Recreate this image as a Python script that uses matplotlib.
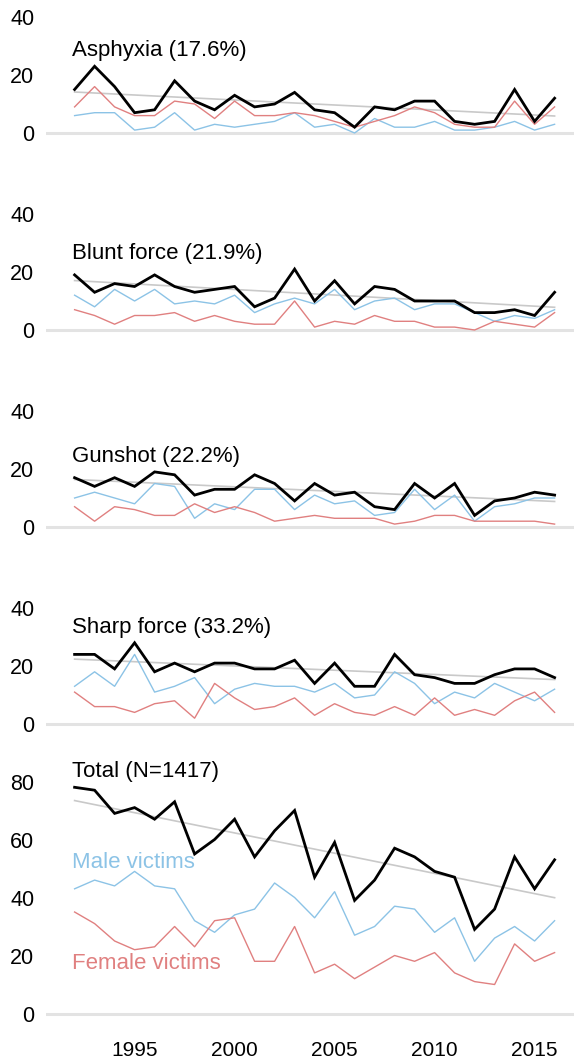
import matplotlib
matplotlib.use('Agg')
import matplotlib.pyplot as plt
import numpy as np

plt.rcParams['font.family'] = ['Liberation Sans', 'DejaVu Sans']

years = np.arange(1992, 2017)

# victims per year, by cause of death (male, female, total)
asphyxia_male = [6, 7, 7, 1, 2, 7, 1, 3, 2, 3, 4, 7, 2, 3, 0, 5, 2, 2, 4, 1, 1, 2, 4, 1, 3]
asphyxia_female = [9, 16, 9, 6, 6, 11, 10, 5, 11, 6, 6, 7, 6, 4, 2, 4, 6, 9, 7, 3, 2, 2, 11, 3, 9]
asphyxia_total = [15, 23, 16, 7, 8, 18, 11, 8, 13, 9, 10, 14, 8, 7, 2, 9, 8, 11, 11, 4, 3, 4, 15, 4, 12]

blunt_male = [12, 8, 14, 10, 14, 9, 10, 9, 12, 6, 9, 11, 9, 14, 7, 10, 11, 7, 9, 9, 6, 3, 5, 4, 7]
blunt_female = [7, 5, 2, 5, 5, 6, 3, 5, 3, 2, 2, 10, 1, 3, 2, 5, 3, 3, 1, 1, 0, 3, 2, 1, 6]
blunt_total = [19, 13, 16, 15, 19, 15, 13, 14, 15, 8, 11, 21, 10, 17, 9, 15, 14, 10, 10, 10, 6, 6, 7, 5, 13]

gunshot_male = [10, 12, 10, 8, 15, 14, 3, 8, 6, 13, 13, 6, 11, 8, 9, 4, 5, 13, 6, 11, 2, 7, 8, 10, 10]
gunshot_female = [7, 2, 7, 6, 4, 4, 8, 5, 7, 5, 2, 3, 4, 3, 3, 3, 1, 2, 4, 4, 2, 2, 2, 2, 1]
gunshot_total = [17, 14, 17, 14, 19, 18, 11, 13, 13, 18, 15, 9, 15, 11, 12, 7, 6, 15, 10, 15, 4, 9, 10, 12, 11]

sharp_male = [13, 18, 13, 24, 11, 13, 16, 7, 12, 14, 13, 13, 11, 14, 9, 10, 18, 14, 7, 11, 9, 14, 11, 8, 12]
sharp_female = [11, 6, 6, 4, 7, 8, 2, 14, 9, 5, 6, 9, 3, 7, 4, 3, 6, 3, 9, 3, 5, 3, 8, 11, 4]
sharp_total = [24, 24, 19, 28, 18, 21, 18, 21, 21, 19, 19, 22, 14, 21, 13, 13, 24, 17, 16, 14, 14, 17, 19, 19, 16]

all_male = [43, 46, 44, 49, 44, 43, 32, 28, 34, 36, 45, 40, 33, 42, 27, 30, 37, 36, 28, 33, 18, 26, 30, 25, 32]
all_female = [35, 31, 25, 22, 23, 30, 23, 32, 33, 18, 18, 30, 14, 17, 12, 16, 20, 18, 21, 14, 11, 10, 24, 18, 21]
all_total = [78, 77, 69, 71, 67, 73, 55, 60, 67, 54, 63, 70, 47, 59, 39, 46, 57, 54, 49, 47, 29, 36, 54, 43, 53]

titles = ['Asphyxia (17.6%)', 'Blunt force (21.9%)', 'Gunshot (22.2%)',
          'Sharp force (33.2%)', 'Total (N=1417)']
males = [asphyxia_male, blunt_male, gunshot_male, sharp_male, all_male]
females = [asphyxia_female, blunt_female, gunshot_female, sharp_female, all_female]
totals = [asphyxia_total, blunt_total, gunshot_total, sharp_total, all_total]

BLUE = '#8cc3e6'
RED = '#e08080'
GRAY = '#c9c9c9'

W, H = 574, 1061
fig = plt.figure(figsize=(W / 100, H / 100), dpi=100)

px_per_unit = 2.9
zeros_px = [133, 330, 527, 724, 1013.5]   # pixel row of y=0 for each panel
tops = [45, 45, 45, 45, 85]
yticks = [[0, 20, 40]] * 4 + [[0, 20, 40, 60, 80]]
lo = -5
left_px = 46

for i in range(5):
    z = zeros_px[i]
    bottom = 1 - (z - lo * px_per_unit) / H
    height = (tops[i] - lo) * px_per_unit / H
    ax = fig.add_axes([left_px / W, bottom, 1 - left_px / W, height])
    ax.patch.set_alpha(0)
    ax.set_xlim(1992 - (74.6 - left_px) / 20, 1992 + (W - 74.6) / 20)
    ax.set_ylim(lo, tops[i])
    for s in ax.spines.values():
        s.set_visible(False)

    ax.axhline(0, color='#e3e3e3', lw=2.2, zorder=1)

    # linear trend of the total
    tot = np.array(totals[i])
    k, b = np.polyfit(years, tot, 1)
    ax.plot(years, k * years + b, color=GRAY, lw=1.2, zorder=2)

    ax.plot(years, males[i], color=BLUE, lw=1.0, zorder=3)
    ax.plot(years, females[i], color=RED, lw=1.0, zorder=3)
    ax.plot(years, tot, color='black', lw=2.0, zorder=4, solid_joinstyle='miter')

    ax.text(1991.85, tot.max() + 3.5, titles[i], fontsize=16, ha='left',
            va='baseline', clip_on=False)

    ax.set_yticks(yticks[i])
    ax.tick_params(axis='y', length=0, pad=8.5, labelsize=15.5)
    if i == 4:
        ax.set_xticks([1995, 2000, 2005, 2010, 2015])
        ax.tick_params(axis='x', length=0, pad=9.5, labelsize=15)
        ax.text(1991.85, 50, 'Male victims', color=BLUE, fontsize=16,
                ha='left', va='baseline')
        ax.text(1991.85, 15.2, 'Female victims', color=RED, fontsize=16,
                ha='left', va='baseline')
    else:
        ax.set_xticks([])

fig.savefig('out.png', dpi=100)
